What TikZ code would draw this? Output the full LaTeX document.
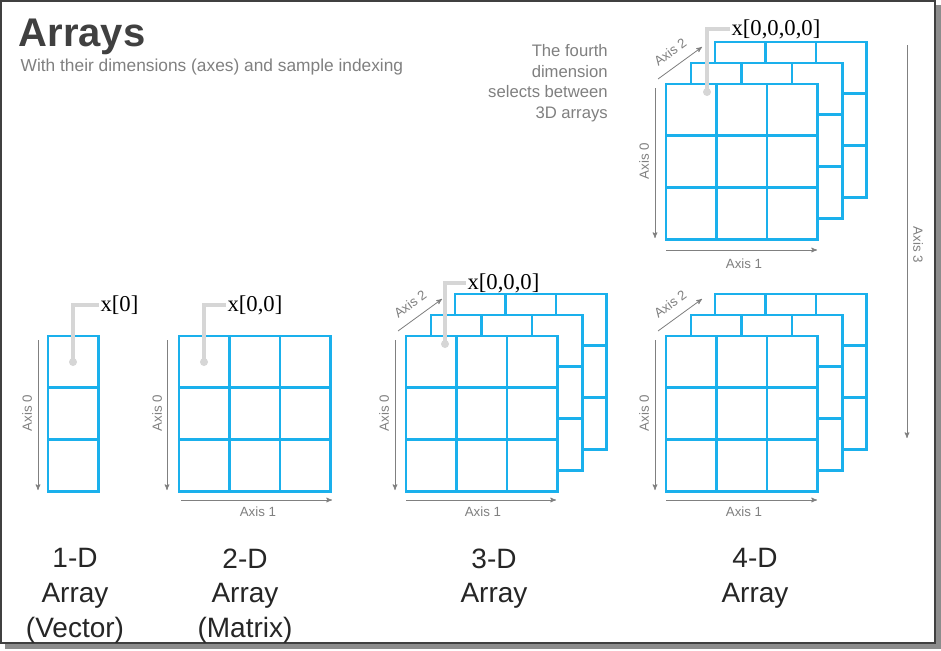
\documentclass[tikz,border=0pt]{standalone}
\usepackage{fontspec}
\setmainfont{Liberation Sans}
\newfontfamily\idxfont{Liberation Serif}
\usetikzlibrary{arrows,positioning}
\definecolor{cellblue}{HTML}{1AB0EC}
\definecolor{axisgray}{HTML}{808080}
\definecolor{callgray}{HTML}{D6D6D6}
\definecolor{titlegray}{HTML}{404040}
\tikzset{
  cell/.style={draw=cellblue,line width=2.2pt,fill=white},
  axis/.style={draw=axisgray,line width=0.6pt,->,>=stealth'},
  axislabel/.style={text=axisgray,font=\fontsize{10}{12}\selectfont},
  callout/.style={draw=callgray,line width=2.6pt},
  calldot/.style={fill=callgray,circle,inner sep=0pt,minimum size=6pt},
  index/.style={font=\idxfont\fontsize{17}{19}\selectfont,anchor=west,inner sep=1pt},
  caption/.style={font=\fontsize{21}{26}\selectfont,align=center,text=black!85,anchor=north}
}
% grid: x, y (top left), cols, rows
\newcommand\arraygrid[4]{%
  \foreach \c in {1,...,#3}{
    \foreach \r in {1,...,#4}{
      \draw[cell] ({#1+(\c-1)*50.5},{#2+(\r-1)*51.7}) rectangle ++(50.5,51.7);
    }
  }}
\newcommand\cubestack[2]{%
  \arraygrid{#1+49}{#2-42}{3}{3}
  \arraygrid{#1+25}{#2-21}{3}{3}
  \arraygrid{#1}{#2}{3}{3}}
\begin{document}
\begin{tikzpicture}[x=0.75pt,y=-0.75pt]
\useasboundingbox (0,0) rectangle (941,650);
% frame
\fill[black!45] (5,5) rectangle (941,649);
\draw[fill=white,draw=titlegray,line width=1.2pt] (1,1) rectangle (935,643);
\node[anchor=west,font=\bfseries\fontsize{30}{34}\selectfont,text=titlegray] (title) at (14,37) {Arrays};
\node[anchor=west,font=\fontsize{13}{15}\selectfont,text=axisgray] (subtitle) at (16,67) {With their dimensions (axes) and sample indexing};
\node[anchor=north east,align=right,font=\fontsize{12.5}{15.5}\selectfont,text=axisgray,inner sep=0pt] (fourth) at (608,44) {The fourth\\dimension\\selects between\\3D arrays};

% 1-D
\arraygrid{48}{336}{1}{3}
\coordinate (a0s) at (38,340); \coordinate (a0e) at (38,490);
\draw[axis] (a0s) -- (a0e);
\node[axislabel,rotate=90] (ax1d) at (27,413) {Axis 0};
\node[calldot] (d1) at (73,362) {};
\node[index] (i1) at (99,305) {x[0]};
\draw[callout] (d1.center) |- (i1.west);
\node[caption] (c1) at (75,544) {1-D\\Array\\(Vector)};

% 2-D
\arraygrid{179}{336}{3}{3}
\coordinate (b0s) at (167,340); \coordinate (b0e) at (167,490);
\draw[axis] (b0s) -- (b0e);
\node[axislabel,rotate=90] (bx0) at (157,413) {Axis 0};
\coordinate (b1s) at (181,500); \coordinate (b1e) at (332,500);
\draw[axis] (b1s) -- (b1e);
\node[axislabel] (bx1) at (258,512) {Axis 1};
\node[calldot] (d2) at (204,362) {};
\node[index] (i2) at (226,305) {x[0,0]};
\draw[callout] (d2.center) |- (i2.west);
\node[caption] (c2) at (245,544) {2-D\\Array\\(Matrix)};

% 3-D
\cubestack{406}{336}
\coordinate (c0s) at (395,340); \coordinate (c0e) at (395,490);
\draw[axis] (c0s) -- (c0e);
\node[axislabel,rotate=90] (cx0) at (384,413) {Axis 0};
\coordinate (c1s) at (406,500); \coordinate (c1e) at (556,500);
\draw[axis] (c1s) -- (c1e);
\node[axislabel] (cx1) at (483,512) {Axis 1};
\coordinate (c2s) at (398,331); \coordinate (c2e) at (442,299);
\draw[axis] (c2s) -- (c2e);
\node[axislabel,rotate=36,anchor=south,inner sep=1pt] (cx2) at (414,309) {Axis 2};
\node[calldot] (d3) at (445,344) {};
\node[index] (i3) at (466,283) {x[0,0,0]};
\draw[callout] (d3.center) |- (i3.west);
\node[caption] (c3) at (494,544) {3-D\\Array};

% 4-D top
\cubestack{666}{84}
\coordinate (t0s) at (655,88); \coordinate (t0e) at (655,238);
\draw[axis] (t0s) -- (t0e);
\node[axislabel,rotate=90] (tx0) at (644,161) {Axis 0};
\coordinate (t1s) at (666,250); \coordinate (t1e) at (817,250);
\draw[axis] (t1s) -- (t1e);
\node[axislabel] (tx1) at (744,264) {Axis 1};
\coordinate (t2s) at (658,79); \coordinate (t2e) at (702,47);
\draw[axis] (t2s) -- (t2e);
\node[axislabel,rotate=36,anchor=south,inner sep=1pt] (tx2) at (674,57) {Axis 2};
\node[calldot] (d4) at (707,92) {};
\node[index] (i4) at (730,29) {x[0,0,0,0]};
\draw[callout] (d4.center) |- (i4.west);

% 4-D bottom
\cubestack{666}{336}
\coordinate (u0s) at (655,340); \coordinate (u0e) at (655,490);
\draw[axis] (u0s) -- (u0e);
\node[axislabel,rotate=90] (ux0) at (644,413) {Axis 0};
\coordinate (u1s) at (666,500); \coordinate (u1e) at (817,500);
\draw[axis] (u1s) -- (u1e);
\node[axislabel] (ux1) at (744,512) {Axis 1};
\coordinate (u2s) at (658,331); \coordinate (u2e) at (702,299);
\draw[axis] (u2s) -- (u2e);
\node[axislabel,rotate=36,anchor=south,inner sep=1pt] (ux2) at (674,309) {Axis 2};
\node[caption] (c4) at (755,544) {4-D\\Array};

% axis 3
\coordinate (a3s) at (907,45); \coordinate (a3e) at (907,438);
\draw[axis] (a3s) -- (a3e);
\node[axislabel,rotate=-90] (ax3) at (918,245) {Axis 3};
\end{tikzpicture}
\end{document}
